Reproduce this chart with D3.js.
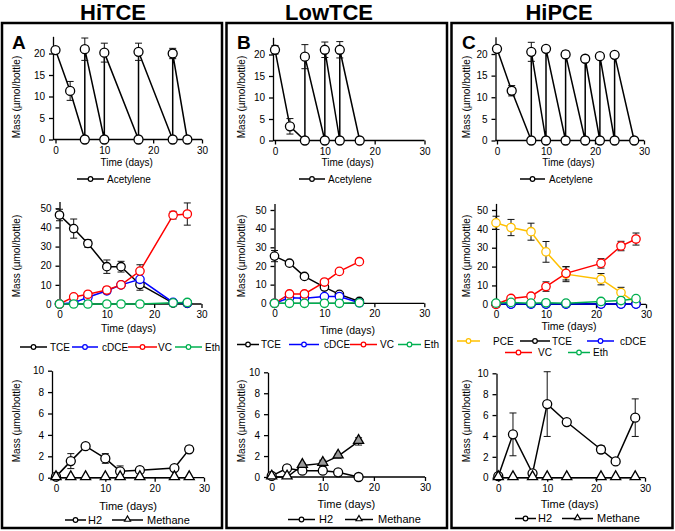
<!DOCTYPE html>
<html>
<head>
<meta charset="utf-8">
<script src="https://cdn.jsdelivr.net/npm/d3@7"></script>
<style>
  body { margin: 0; background: #fff; }
  text { font-family: "Liberation Sans", Arial, sans-serif; fill: #000; }
</style>
</head>
<body>
<svg id="chart" width="675" height="531"></svg>
<script>
// ---------- data ----------
const groups = ['HiTCE', 'LowTCE', 'HiPCE'];
const letters = ['A', 'B', 'C'];

const xTicks = [0, 10, 20, 30];
const topTicks = [0, 5, 10, 15, 20];
const midTicks = [0, 10, 20, 30, 40, 50];
const botTicks = [0, 2, 4, 6, 8, 10];

// HiTCE
const hitceAcDays = [0, 3, 6, 6, 10, 10, 17, 17, 24, 24, 27];
const hitceAc = [20.8, 11.3, 0, 21.0, 0, 20.2, 0, 20.4, 0, 20.0, 0];
const hitceAcErr = [0.4, 2.2, 0, 2.6, 0, 2.2, 0, 2.0, 0, 1.2, 0];
const hitceDays = [0, 3, 6, 10, 13, 17, 24, 27];
const hitceTCE = [46.5, 39.4, 31.6, 19.5, 19.5, 10.2, 0.5, 0.3];
const hitceTCEErr = [3, 5, 2, 3.5, 2.8, 3, 0, 0];
const hitceDCE = [0, 0.6, 3.5, 6.9, 10, 12.9, 0.8, 0.5];
const hitceVC = [0, 3.7, 5.1, 7.3, 10, 17.2, 46.4, 47];
const hitceVCErr = [0, 1, 1, 1.5, 1, 3.3, 2, 5.8];
const hitceEth = [0, 0, 0, 0, 0, 0, 0.6, 0.8];
const hitceH2 = [0.1, 1.55, 2.95, 1.8, 0.6, 0.7, 0.9, 2.65];
const hitceH2Err = [0.1, 0.7, 0.25, 0.45, 0.5, 0, 0, 0.3];
const hitceCH4 = [0, 0, 0, 0, 0, 0, 0, 0];

// LowTCE
const lowAcDays = [0, 3, 6, 6, 10, 10, 13, 13, 17];
const lowAc = [21.1, 3.3, 0, 19.5, 0, 21.1, 0, 21.1, 0];
const lowAcErr = [1, 1.8, 0, 2.8, 0, 1.8, 0, 1.9, 0];
const lowDays = [0, 3, 6, 10, 13, 17];
const lowTCE = [25.3, 21.5, 14.4, 8.7, 4.8, 1];
const lowTCEErr = [3, 0.8, 0.8, 0.8, 0.8, 0.4];
const lowDCE = [0, 3, 2.7, 3.6, 3.6, 0.3];
const lowVC = [0, 5, 5, 11.4, 17.1, 22.3];
const lowVCErr = [0, 0.8, 0.8, 1, 1, 1];
const lowEth = [0, 0, 0, 0, 0, 0.3];
const lowH2 = [0.1, 0.83, 0.6, 0.6, 0.45, 0];
const lowCH4 = [0, 0, 1.1, 1.3, 2.0, 3.4];
const lowCH4Err = [0, 0, 0.2, 0.3, 0.2, 0.35];

// HiPCE
const hipceAcDays = [0, 3, 7, 7, 10, 10, 14, 14, 18, 18, 21, 21, 24, 24, 28];
const hipceAc = [21.2, 11.5, 0, 20.5, 0, 21.2, 0, 19.9, 0, 18.9, 0, 19.5, 0, 19.8, 0];
const hipceAcErr = [0.5, 1.2, 0, 2.2, 0, 0.4, 0, 0.8, 0, 0.4, 0, 0.4, 0, 0.5, 0];
const hipceDays = [0, 3, 7, 10, 14, 21, 25, 28];
const hipcePCE = [43.2, 40.7, 38.5, 27.8, 16, 13.3, 6.2, 0.8];
const hipcePCEErr = [3.5, 4.3, 4.5, 5.5, 4, 3, 2.8, 0];
const hipceTCE = [0.2, 0.2, 0.2, 0.2, 0.2, 0.3, 0.2, 0.2];
const hipceDCE = [0.1, 0.1, 0.1, 0.1, 0.1, 0.1, 0.1, 0.1];
const hipceVC = [0, 3.1, 4.3, 9.4, 16.4, 21.7, 30.9, 34.6];
const hipceVCErr = [0, 0.5, 0.5, 2.5, 3.5, 2.5, 2.5, 3.2];
const hipceEth = [0.6, 1, 0.6, 0.8, 0.6, 1.5, 2, 3];
const hipceGasDays = [0, 3, 7, 10, 14, 21, 24, 28];
const hipceH2 = [0.15, 4.15, 0.42, 7.05, 5.33, 2.7, 1.56, 5.75];
const hipceH2Err = [0, 2.05, 0.2, 3.1, 0, 0.35, 0.2, 1.8];
const hipceCH4 = [0, 0, 0, 0, 0, 0, 0, 0];

// ---------- drawing ----------
const svg = d3.select('#chart');
const C = { k: '#000', b: '#0000ff', r: '#ff0000', g: '#00b050', o: '#ffc000' };

// column frames and titles
const frames = [[2, 220], [226.5, 220.5], [451.5, 221]];
frames.forEach((f, i) => {
  svg.append('rect').attr('x', f[0]).attr('y', 23).attr('width', f[1]).attr('height', 505)
    .attr('fill', 'none').attr('stroke', '#000').attr('stroke-width', 2.5);
});
[113, 329, 559].forEach((cx, i) => {
  svg.append('text').attr('x', cx).attr('y', 20).attr('text-anchor', 'middle')
    .attr('font-size', 22).attr('font-weight', 'bold').text(groups[i]);
});
[12, 237, 462].forEach((lx, i) => {
  svg.append('text').attr('x', lx).attr('y', 49).attr('font-size', 19)
    .attr('font-weight', 'bold').text(letters[i]);
});

function series(days, values, err, color, shape, extra) {
  return Object.assign({ days, values, err, color, shape }, extra || {});
}

function drawPanel(p) {
  const x = d3.scaleLinear().domain([0, 30]).range([p.px0, p.px30]);
  const unit = (p.py0 - p.pyRef) / p.ref;
  const y = d3.scaleLinear().domain([0, p.ymax]).range([p.py0, p.py0 - unit * p.ymax]);
  const g = svg.append('g');

  // axes
  const xa = g.append('g').attr('transform', `translate(0,${p.py0})`)
    .call(d3.axisBottom(x).tickValues(xTicks).tickSize(4).tickSizeOuter(0).tickPadding(3));
  xa.select('.domain').remove();
  xa.append('line').attr('x1', p.axisX).attr('x2', p.px30).attr('stroke', '#000').attr('stroke-width', 1.3);
  const ya = g.append('g').attr('transform', `translate(${p.axisX},0)`)
    .call(d3.axisLeft(y).tickValues(p.ticks).tickSize(4).tickSizeOuter(0).tickPadding(4));
  [xa, ya].forEach(a => {
    a.selectAll('.domain, .tick line').attr('stroke', '#000').attr('stroke-width', 1.3);
    a.selectAll('.tick text').attr('font-size', 10).attr('font-family', '"Liberation Sans", Arial, sans-serif');
  });

  // titles
  g.append('text').attr('transform', `translate(${p.col + 20},${p.ylabY}) rotate(-90)`)
    .attr('text-anchor', 'middle').attr('font-size', p.fs).text('Mass (\u00b5mol/bottle)');
  g.append('text').attr('x', (p.px0 + p.px30) / 2 - 2).attr('y', p.xlabY)
    .attr('text-anchor', 'middle').attr('font-size', p.xfs).text('Time (days)');

  const pts = s => s.days.map((d, i) => ({ d, v: s.values[i], e: s.err ? s.err[i] : 0 }));
  const line = d3.line().x(d => x(d.d)).y(d => y(d.v));

  p.series.forEach(s => {
    g.append('path').datum(pts(s)).attr('d', line).attr('fill', 'none')
      .attr('stroke', s.color).attr('stroke-width', 1.5);
  });
  p.series.forEach(s => {
    const eb = g.append('g').attr('stroke', '#111').attr('stroke-width', 1);
    pts(s).filter(d => d.e > 0).forEach(d => {
      const lo = y(Math.max(0, d.v - d.e)), hi = y(d.v + d.e), cx = x(d.d);
      eb.append('line').attr('x1', cx).attr('x2', cx).attr('y1', lo).attr('y2', hi);
      eb.append('line').attr('x1', cx - 3.5).attr('x2', cx + 3.5).attr('y1', lo).attr('y2', lo);
      eb.append('line').attr('x1', cx - 3.5).attr('x2', cx + 3.5).attr('y1', hi).attr('y2', hi);
    });
  });
  p.series.forEach(s => {
    const m = g.selectAll(null).data(pts(s)).enter();
    if (s.shape === 'tri') {
      m.append('path').attr('d', d3.symbol(d3.symbolTriangle, 44))
        .attr('transform', d => `translate(${x(d.d)},${y(d.v) - 1})`)
        .attr('fill', d => s.fill ? s.fill(d) : '#fff').attr('stroke', s.color).attr('stroke-width', 1.3);
    } else {
      m.append('circle').attr('cx', d => x(d.d)).attr('cy', d => y(d.v)).attr('r', p.r)
        .attr('fill', '#fff').attr('stroke', s.color).attr('stroke-width', 1.3);
    }
  });

  // legend
  p.legend.forEach(it => {
    const lg = g.append('g');
    lg.append('line').attr('x1', it.lx).attr('x2', it.lx + it.lw).attr('y1', it.y).attr('y2', it.y)
      .attr('stroke', it.color).attr('stroke-width', 1.5);
    const mx = it.lx + it.lw / 2;
    if (it.shape === 'tri') {
      lg.append('path').attr('d', d3.symbol(d3.symbolTriangle, 16))
        .attr('transform', `translate(${mx},${it.y - 0.5})`)
        .attr('fill', '#fff').attr('stroke', it.color).attr('stroke-width', 1.2);
    } else {
      lg.append('circle').attr('cx', mx).attr('cy', it.y).attr('r', 2.3)
        .attr('fill', '#fff').attr('stroke', it.color).attr('stroke-width', 1.2);
    }
    lg.append('text').attr('x', it.tx).attr('y', it.y).attr('dy', '0.35em')
      .attr('font-size', p.lfs).text(it.label);
  });
}

const leg = (label, color, shape, lx, lw, tx, y) => ({ label, color, shape, lx, lw, tx, y });

const topBase = { ymax: 24, ref: 20, ticks: topTicks, r: 4.5, fs: 10, xfs: 10, lfs: 10, ylabY: 97, xlabY: 166 };
const midBase = { ymax: 53.5, ref: 50, ticks: midTicks, r: 4.2, fs: 10, xfs: 10.5, lfs: 10, ylabY: 256, xlabY: 332 };
const botBase = { ymax: 10, ref: 10, ticks: botTicks, r: 4.5, fs: 10, xfs: 11, lfs: 11, ylabY: 421, xlabY: 510 };

const panels = [
  // top: acetylene
  Object.assign({}, topBase, { col: 0, px0: 55.5, px30: 202, axisX: 53, py0: 139.5, pyRef: 53.5,
    series: [series(hitceAcDays, hitceAc, hitceAcErr, C.k)],
    legend: [leg('Acetylene', C.k, 'c', 77, 27, 107, 179)] }),
  Object.assign({}, topBase, { col: 225, px0: 275, px30: 424.5, axisX: 273, py0: 140.5, pyRef: 54.5,
    series: [series(lowAcDays, lowAc, lowAcErr, C.k)],
    legend: [leg('Acetylene', C.k, 'c', 299, 26, 328, 179)] }),
  Object.assign({}, topBase, { col: 450, px0: 497, px30: 644, axisX: 495.5, py0: 140.5, pyRef: 54,
    series: [series(hipceAcDays, hipceAc, hipceAcErr, C.k)],
    legend: [leg('Acetylene', C.k, 'c', 520, 25, 549, 179)] }),
  // middle: chlorinated ethenes
  Object.assign({}, midBase, { col: 0, px0: 59.5, px30: 201.5, axisX: 59.5, py0: 304, pyRef: 208.3,
    series: [series(hitceDays, hitceTCE, hitceTCEErr, C.k), series(hitceDays, hitceDCE, null, C.b),
             series(hitceDays, hitceVC, hitceVCErr, C.r), series(hitceDays, hitceEth, null, C.g)],
    legend: [leg('TCE', C.k, 'c', 20, 27, 50, 347), leg('cDCE', C.b, 'c', 72, 26, 102, 347),
             leg('VC', C.r, 'c', 128, 29, 158, 347), leg('Eth', C.g, 'c', 175, 27, 205, 347)] }),
  Object.assign({}, midBase, { col: 225, px0: 274.5, px30: 424.3, axisX: 274.5, py0: 303.3, pyRef: 210, xlabY: 334,
    series: [series(lowDays, lowTCE, lowTCEErr, C.k), series(lowDays, lowDCE, null, C.b),
             series(lowDays, lowVC, lowVCErr, C.r), series(lowDays, lowEth, null, C.g)],
    legend: [leg('TCE', C.k, 'c', 237, 22, 261, 344.5), leg('cDCE', C.b, 'c', 289, 30, 324, 344.5),
             leg('VC', C.r, 'c', 350, 27, 380, 344.5), leg('Eth', C.g, 'c', 398, 23, 424, 344.5)] }),
  Object.assign({}, midBase, { col: 450, px0: 496, px30: 646, axisX: 496, py0: 304.3, pyRef: 210, xlabY: 330,
    series: [series(hipceDays, hipcePCE, hipcePCEErr, C.o), series(hipceDays, hipceTCE, null, C.k),
             series(hipceDays, hipceDCE, null, C.b), series(hipceDays, hipceVC, hipceVCErr, C.r),
             series(hipceDays, hipceEth, null, C.g)],
    legend: [leg('PCE', C.o, 'c', 457, 23, 493, 341), leg('TCE', C.k, 'c', 520, 30, 552, 341),
             leg('cDCE', C.b, 'c', 587, 27, 620, 341), leg('VC', C.r, 'c', 505, 27, 538, 352.5),
             leg('Eth', C.g, 'c', 568, 22, 593, 352.5)] }),
  // bottom: H2 and methane
  Object.assign({}, botBase, { col: 0, px0: 56, px30: 204, axisX: 52, py0: 477.7, pyRef: 370.7,
    series: [series(hitceDays, hitceH2, hitceH2Err, C.k), series(hitceDays, hitceCH4, null, C.k, 'tri')],
    legend: [leg('H2', C.k, 'c', 65, 21, 88, 520), leg('Methane', C.k, 'tri', 112, 31, 147, 520)] }),
  Object.assign({}, botBase, { col: 225, px0: 271.7, px30: 425, axisX: 268, py0: 477, pyRef: 372.3, xlabY: 508,
    series: [series(lowDays, lowH2, null, C.k),
             series(lowDays, lowCH4, lowCH4Err, C.k, 'tri', { fill: d => d.v > 0.5 ? '#9a9a9a' : '#fff' })],
    legend: [leg('H2', C.k, 'c', 288, 27, 319, 519.5), leg('Methane', C.k, 'tri', 345, 28, 378, 519.5)] }),
  Object.assign({}, botBase, { col: 450, px0: 498.3, px30: 645, axisX: 496.5, py0: 477.7, pyRef: 373.3, xlabY: 508,
    series: [series(hipceGasDays, hipceH2, hipceH2Err, C.k), series(hipceGasDays, hipceCH4, null, C.k, 'tri')],
    legend: [leg('H2', C.k, 'c', 515, 21, 538, 518.5), leg('Methane', C.k, 'tri', 562, 31, 597, 518.5)] })
];

panels.forEach(drawPanel);
</script>
</body>
</html>
